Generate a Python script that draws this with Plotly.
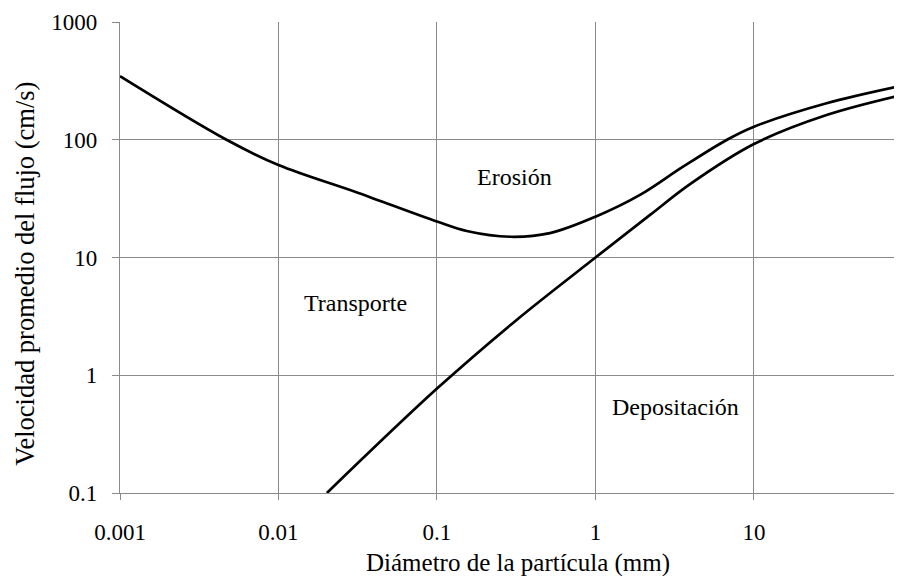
import plotly.graph_objects as go

# Erosion threshold curve (upper)
erosion_d = [0.001, 0.0047, 0.01, 0.0316, 0.1, 0.154, 0.289, 0.516, 1.0, 1.91, 3.57, 6.76, 10, 28.7, 86]
erosion_v = [347, 100, 61, 35.5, 20.2, 16.8, 15.0, 16.1, 22.2, 34, 59, 100, 129, 204, 288]

# Deposition threshold curve (lower)
dep_d = [0.0202, 0.1, 0.318, 1.0, 2.21, 3.95, 10, 28.7, 86]
dep_v = [0.1, 0.77, 2.95, 10, 23, 42, 92, 162, 240]

x_ticks = [0.001, 0.01, 0.1, 1, 10]
x_ticktext = ["0.001", "0.01", "0.1", "1", "10"]
y_ticks = [0.1, 1, 10, 100, 1000]
y_ticktext = ["0.1", "1", "10", "100", "1000"]

region_labels = ["Erosión", "Transporte", "Depositación"]
x_title = "Diámetro de la partícula (mm)"
y_title = "Velocidad promedio del flujo (cm/s)"

FONT = "Liberation Serif"
GRID = "#8a8a8a"

fig = go.Figure()
fig.add_trace(go.Scatter(x=erosion_d, y=erosion_v, mode="lines",
                         line=dict(color="black", width=2.7, shape="spline", smoothing=1.0),
                         showlegend=False, hoverinfo="skip"))
fig.add_trace(go.Scatter(x=dep_d, y=dep_v, mode="lines",
                         line=dict(color="black", width=2.7, shape="spline", smoothing=1.0),
                         showlegend=False, hoverinfo="skip"))

axis_common = dict(type="log", showgrid=True, gridcolor=GRID, gridwidth=1.3,
                   showline=True, linecolor=GRID, linewidth=1.3,
                   ticks="outside", tickcolor=GRID, tickwidth=1.3,
                   zeroline=False, tickfont=dict(family=FONT, size=23, color="black"))

fig.update_xaxes(range=[-3, 1.934], tickvals=x_ticks, ticktext=x_ticktext,
                 ticklen=6, ticklabelstandoff=12, **axis_common)
fig.update_yaxes(range=[-1, 3], tickvals=y_ticks, ticktext=y_ticktext,
                 ticklen=7, ticklabelstandoff=10, **axis_common)

# region labels (log axes: annotation positions are in log10 units)
label_pos = [(-0.508, 1.684), (-1.513, 0.616), (0.502, -0.267)]
for txt, (lx, ly) in zip(region_labels, label_pos):
    fig.add_annotation(x=lx, y=ly, xref="x", yref="y", text=txt, showarrow=False,
                       font=dict(family=FONT, size=24, color="black"),
                       xanchor="center", yanchor="middle")

fig.add_annotation(x=0.509, y=-0.1486, xref="paper", yref="paper", text=x_title,
                   showarrow=False, font=dict(family=FONT, size=25, color="black"),
                   xanchor="center", yanchor="middle")
fig.add_annotation(x=-0.1225, y=0.466, xref="paper", yref="paper", text=y_title,
                   showarrow=False, textangle=-90,
                   font=dict(family=FONT, size=26.5, color="black"),
                   xanchor="center", yanchor="middle")

# page has an 8px body margin, so the figure is shifted by 8px in the window
fig.update_layout(width=894, height=568, margin=dict(l=112, r=0, t=14, b=83),
                  plot_bgcolor="white", paper_bgcolor="white",
                  font=dict(family=FONT, color="black"))

fig.write_html("out.html")
